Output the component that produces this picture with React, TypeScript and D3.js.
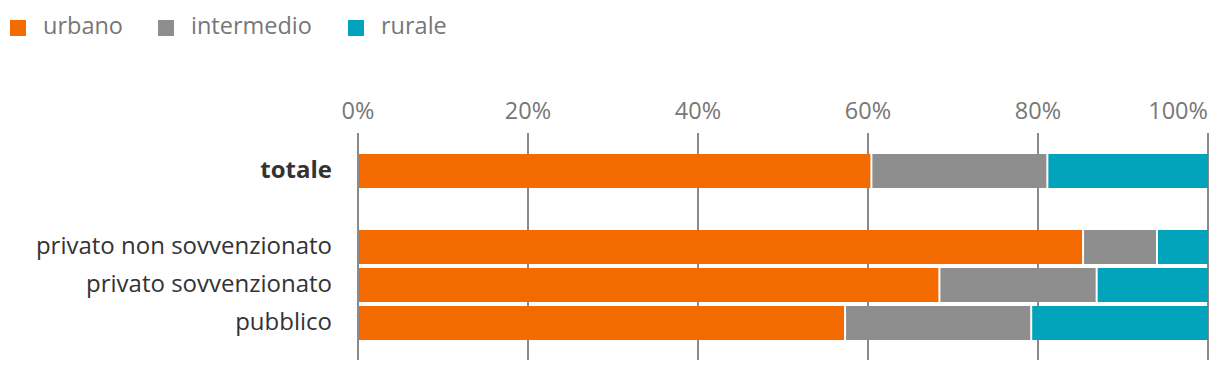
import React from "react";
import * as d3 from "d3";

const categories = ["totale", "", "privato non sovvenzionato", "privato sovvenzionato", "pubblico"];
const seriesNames = ["urbano", "intermedio", "rurale"];
const seriesColors = ["#f26a00", "#8e8e8e", "#00a3ba"];
const urbano = [60.4, null, 85.3, 68.4, 57.3];
const intermedio = [20.7, null, 8.7, 18.5, 21.9];
const rurale = [18.9, null, 6.0, 13.1, 20.8];
const tickValues = [0, 20, 40, 60, 80, 100];
const tickLabels = ["0%", "20%", "40%", "60%", "80%", "100%"];

const W = 1220;
const H = 372;
const FONT = "'Open Sans', 'Noto Sans', sans-serif";

export default function App() {
  const x = d3.scaleLinear().domain([0, 100]).range([358, 1208]);
  const keys = categories.map((c, i) => (c === "" ? `__gap${i}` : c));
  const y = d3.scaleBand<string>().domain(keys).range([154, 340]).paddingInner(4 / 38).paddingOuter(0);

  const rows = keys.map((k, i) => ({ key: k, label: categories[i], vals: [urbano[i], intermedio[i], rurale[i]] }));

  const legendX = [10, 158, 348];

  return (
    <svg width={W} height={H} style={{ position: "fixed", left: 0, top: 0, background: "#fff" }} fontFamily={FONT}>
      {/* legend */}
      {seriesNames.map((s, i) => (
        <g key={s} transform={`translate(${legendX[i]},0)`}>
          <rect x={0} y={20} width={16} height={16} fill={seriesColors[i]} />
          <text x={33} y={33.5} fontSize={23.5} fill="#777">
            {s}
          </text>
        </g>
      ))}
      {/* gridlines + ticks */}
      {tickValues.map((t, i) => (
        <g key={t}>
          <line x1={x(t)} x2={x(t)} y1={133} y2={360} stroke="#8a8a8a" strokeWidth={2} />
          <text
            x={x(t)}
            y={118.5}
            fontSize={23.5}
            fill="#777"
            textAnchor={i === tickValues.length - 1 ? "end" : "middle"}
          >
            {tickLabels[i]}
          </text>
        </g>
      ))}
      {/* bars */}
      {rows.map((r) => {
        if (r.label === "") return null;
        const y0 = y(r.key)!;
        const bh = y.bandwidth();
        let acc = 0;
        return (
          <g key={r.key}>
            {r.vals.map((v, j) => {
              const s = acc;
              const e = acc + (v as number);
              acc = e;
              const x0 = x(s) + 1;
              const x1 = j === r.vals.length - 1 ? x(100) : x(e) - 1;
              return <rect key={j} x={x0} y={y0} width={Math.max(0, x1 - x0)} height={bh} fill={seriesColors[j]} />;
            })}
            <text
              x={332}
              y={y0 + bh / 2 + 6.5}
              textAnchor="end"
              fontSize={24}
              fill="#333"
              fontWeight={r.label === "totale" ? 700 : 400}
            >
              {r.label}
            </text>
          </g>
        );
      })}
    </svg>
  );
}
